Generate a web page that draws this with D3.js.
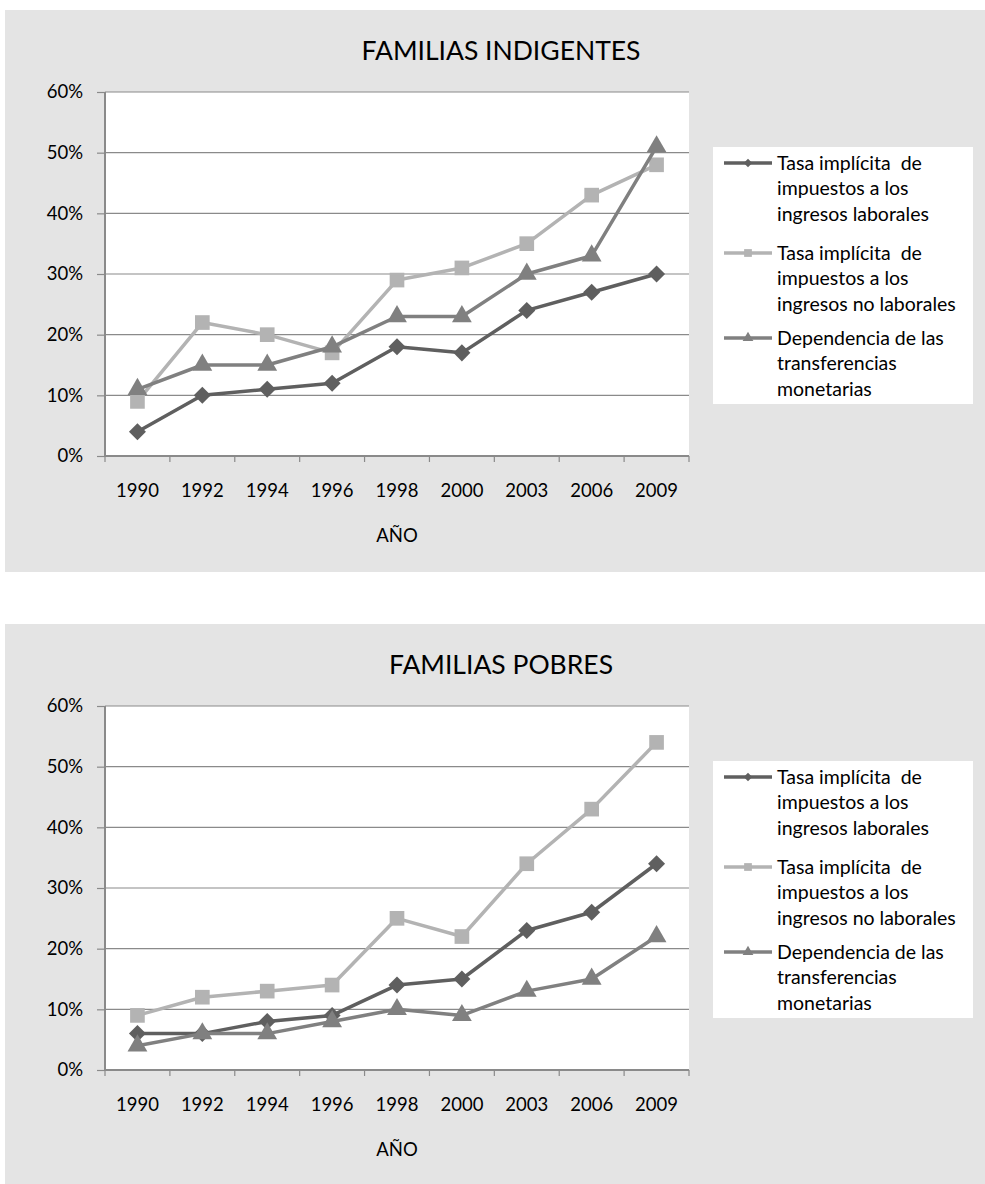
<!DOCTYPE html>
<html><head><meta charset="utf-8">
<script src="https://cdn.jsdelivr.net/npm/d3@7"></script>
<style>
body{margin:0;background:#fff;}
svg{display:block;font-family:Lato, "Open Sans", sans-serif;}
</style></head>
<body>
<svg id="c" width="985" height="1184"></svg>
<script>
const years = ["1990","1992","1994","1996","1998","2000","2003","2006","2009"];
const yTicks = [0, 0.1, 0.2, 0.3, 0.4, 0.5, 0.6];
const seriesNames = [
  ["Tasa implícita  de", "impuestos a los", "ingresos laborales"],
  ["Tasa implícita  de", "impuestos a los", "ingresos no laborales"],
  ["Dependencia de las", "transferencias", "monetarias"]
];
const panelTitles = ["FAMILIAS INDIGENTES", "FAMILIAS POBRES"];
const xAxisTitle = "AÑO";

// FAMILIAS INDIGENTES
const indLaborales   = [0.04, 0.10, 0.11, 0.12, 0.18, 0.17, 0.24, 0.27, 0.30];
const indNoLaborales = [0.09, 0.22, 0.20, 0.17, 0.29, 0.31, 0.35, 0.43, 0.48];
const indTransfer    = [0.11, 0.15, 0.15, 0.18, 0.23, 0.23, 0.30, 0.33, 0.51];
// FAMILIAS POBRES
const pobLaborales   = [0.06, 0.06, 0.08, 0.09, 0.14, 0.15, 0.23, 0.26, 0.34];
const pobNoLaborales = [0.09, 0.12, 0.13, 0.14, 0.25, 0.22, 0.34, 0.43, 0.54];
const pobTransfer    = [0.04, 0.06, 0.06, 0.08, 0.10, 0.09, 0.13, 0.15, 0.22];

const colors = ["#5f5f5f", "#b3b3b3", "#808080"];
const symbols = [d3.symbolDiamond2, d3.symbolSquare, d3.symbolTriangle];
const symSizes = [185, 215, 170];
const legSizes = [45, 60, 50];

const svg = d3.select("#c");

function drawPanel(top, title, series) {
  const g = svg.append("g").attr("transform", `translate(0,${top})`);
  g.append("rect").attr("x", 5).attr("y", 0).attr("width", 980).attr("height", 562).attr("fill", "#e4e4e4");

  const plot = {l: 105, r: 689, t: 82, b: 446};
  g.append("rect").attr("x", plot.l).attr("y", plot.t).attr("width", plot.r - plot.l).attr("height", plot.b - plot.t).attr("fill", "#fff");

  const x = d3.scaleBand().domain(years).range([plot.l, plot.r]).paddingInner(0).paddingOuter(0);
  const y = d3.scaleLinear().domain([0, 0.6]).range([plot.b, plot.t]);

  // gridlines
  g.append("g").selectAll("line").data(yTicks.filter(d => d > 0)).join("line")
    .attr("x1", plot.l).attr("x2", plot.r)
    .attr("y1", d => y(d)).attr("y2", d => y(d))
    .attr("stroke", "#8a8a8a").attr("stroke-width", 1.2);

  // y axis
  const yAxis = g.append("g").attr("transform", `translate(${plot.l},0)`)
    .call(d3.axisLeft(y).tickValues(yTicks).tickFormat(d3.format(".0%")).tickSize(8).tickPadding(14));
  yAxis.select(".domain").attr("stroke", "#8a8a8a").attr("stroke-width", 2).attr("d", `M0,${plot.t}V${plot.b}`);
  yAxis.selectAll(".tick line").attr("stroke", "#8a8a8a").attr("stroke-width", 1.2);
  yAxis.selectAll("text").attr("font-size", 18.5).attr("fill", "#000").attr("font-family", "Lato");

  // x axis
  const xAxis = g.append("g").attr("transform", `translate(0,${plot.b})`)
    .call(d3.axisBottom(x).tickSize(0).tickPadding(28));
  xAxis.select(".domain").attr("stroke", "#8a8a8a").attr("stroke-width", 2).attr("d", `M${plot.l},0H${plot.r}`);
  xAxis.selectAll("text").attr("font-size", 18.5).attr("fill", "#000").attr("font-family", "Lato");
  const bounds = years.map(d => x(d)).concat([plot.r]);
  xAxis.append("g").selectAll("line").data(bounds).join("line")
    .attr("x1", d => d).attr("x2", d => d).attr("y1", 0).attr("y2", 6)
    .attr("stroke", "#8a8a8a").attr("stroke-width", 1.2);

  // titles
  g.append("text").attr("x", 501).attr("y", 50).attr("text-anchor", "middle")
    .attr("font-size", 26.5).attr("fill", "#000").text(title);
  g.append("text").attr("x", (plot.l + plot.r) / 2).attr("y", 532).attr("text-anchor", "middle")
    .attr("font-size", 18.5).attr("fill", "#000").text(xAxisTitle);

  const cx = d => x(d) + x.bandwidth() / 2;
  const line = d3.line().x(d => cx(d.year)).y(d => y(d.v));

  series.forEach((vals, i) => {
    const pts = years.map((yr, j) => ({year: yr, v: vals[j]}));
    g.append("path").datum(pts).attr("d", line).attr("fill", "none")
      .attr("stroke", colors[i]).attr("stroke-width", 3.5).attr("stroke-linejoin", "round");
    g.append("g").selectAll("path").data(pts).join("path")
      .attr("d", d3.symbol().type(symbols[i]).size(symSizes[i]))
      .attr("transform", d => `translate(${cx(d.year)},${y(d.v)})`)
      .attr("fill", colors[i]);
  });

  // legend
  const lg = g.append("g");
  lg.append("rect").attr("x", 713).attr("y", 137).attr("width", 260).attr("height", 257).attr("fill", "#fff");
  const entryTop = [153, 243, 328];
  seriesNames.forEach((lines, i) => {
    const ey = entryTop[i];
    lg.append("line").attr("x1", 724).attr("x2", 772).attr("y1", ey).attr("y2", ey)
      .attr("stroke", colors[i]).attr("stroke-width", 3.5);
    lg.append("path").attr("d", d3.symbol().type(symbols[i]).size(legSizes[i]))
      .attr("transform", `translate(748,${ey})`).attr("fill", colors[i]);
    lines.forEach((t, k) => {
      lg.append("text").attr("x", 777).attr("y", ey + k * 25.5).attr("dy", "0.35em")
        .attr("font-size", 19.5).attr("fill", "#000").style("white-space", "pre").text(t);
    });
  });
}

drawPanel(10, panelTitles[0], [indLaborales, indNoLaborales, indTransfer]);
drawPanel(624, panelTitles[1], [pobLaborales, pobNoLaborales, pobTransfer]);
</script>
</body></html>
